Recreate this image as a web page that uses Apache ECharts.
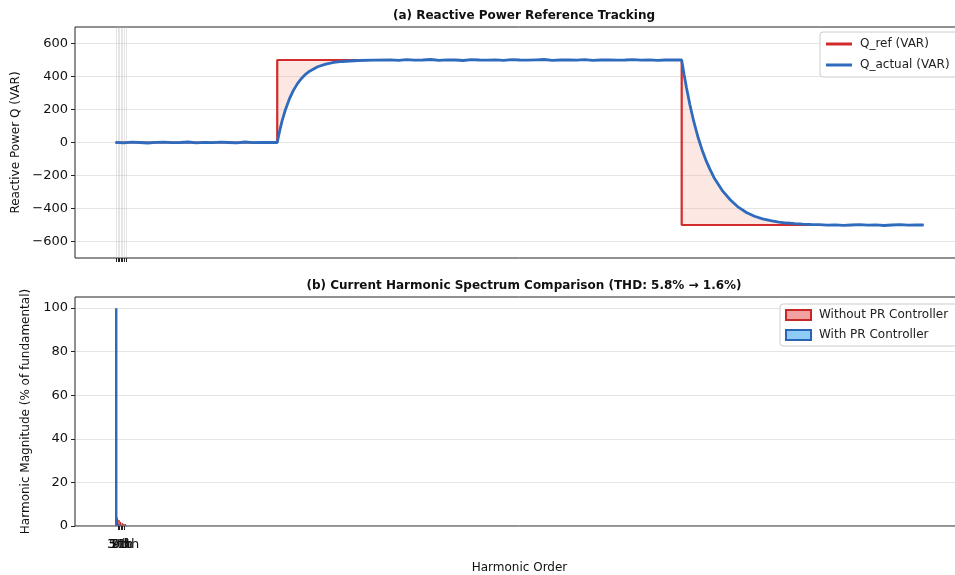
<!DOCTYPE html>
<html>
<head>
<meta charset="utf-8">
<script src="https://cdn.jsdelivr.net/npm/echarts@6/dist/echarts.min.js"></script>
<style>html,body{margin:0;padding:0;background:#fff;overflow:hidden;width:955px;height:575px;}#c{width:985px;height:575px;}</style>
</head>
<body>
<div id="c"></div>
<script>
// ---- data ----
const refT = [0, 200, 200, 700, 700, 999];
const refQ = [0, 0, 500, 500, -500, -500];

const actT = [0,10,20,30,40,50,60,70,80,90,100,110,120,130,140,150,160,170,180,190,
  200,203,206,210,215,220,225,230,235,240,250,260,270,280,290,300,320,
  340,350,360,370,380,390,400,410,420,430,440,450,460,470,480,490,500,510,520,530,540,550,560,570,580,590,600,610,620,630,640,650,660,670,680,690,
  700,703,706,710,715,720,725,730,735,740,750,760,770,780,790,800,810,820,830,840,850,860,
  870,880,890,900,910,920,930,940,950,960,970,980,990,999];
const actQ = [1,-2,2,0,-3,1,2,-1,0,3,-2,1,-1,2,0,-2,3,-1,1,0,
  0,70,131,197,264,316,357,388,413,432,459,475,485,491,494,497,499,
  501,498,502,499,500,503,498,501,500,497,502,500,499,501,498,502,500,499,501,503,498,500,501,499,502,498,500,501,499,500,502,499,501,498,500,501,
  500,410,330,232,126,35,-42,-108,-163,-213,-290,-347,-392,-424,-447,-463,-474,-482,-488,-492,-495,-497,
  -498,-501,-499,-502,-500,-498,-501,-499,-503,-500,-498,-501,-499,-500];

const harmOrders = [1, 3, 5, 7, 9, 11, 13];
const harmLabels = ['1st', '3rd', '5th', '7th', '9th', '11th', '13th'];
const withoutPR = [100, 4.0, 3.0, 2.0, 1.5, 1.2, 1.0];
const withPR = [100, 1.0, 0.8, 0.6, 0.5, 0.4, 0.3];

const qTicks = [-600, -400, -200, 0, 200, 400, 600];
const hTicks = [0, 20, 40, 60, 80, 100];

// ---- chart ----
const FONT = 'DejaVu Sans';
const chart = echarts.init(document.getElementById('c'), null, {renderer: 'canvas'});

const refData = refT.map((t, i) => [t, refQ[i]]);
const actData = actT.map((t, i) => [t, actQ[i]]);

function commonX(idx, showLabel) {
  return {
    type: 'value', gridIndex: idx, min: -50, max: 1049,
    axisLine: {show: false, onZero: false},
    axisTick: {show: true, customValues: harmOrders, length: 4, lineStyle: {color: '#222'}},
    axisLabel: {show: showLabel, customValues: harmOrders, hideOverlap: false,
      formatter: v => harmLabels[harmOrders.indexOf(v)] || '',
      color: '#111', fontFamily: FONT, fontSize: 13, margin: 12},
    splitLine: {show: idx === 0, lineStyle: {color: 'rgba(180,180,180,0.35)', width: 1}}
  };
}

chart.setOption({
  animation: false,
  backgroundColor: '#fff',
  title: [
    {text: '(a) Reactive Power Reference Tracking', left: 519, top: 5, textAlign: 'center',
     textStyle: {fontFamily: FONT, fontSize: 12, fontWeight: 'bold', color: '#111'}},
    {text: '(b) Current Harmonic Spectrum Comparison (THD: 5.8% \u2192 1.6%)', left: 519, top: 275, textAlign: 'center',
     textStyle: {fontFamily: FONT, fontSize: 12, fontWeight: 'bold', color: '#111'}}
  ],
  grid: [
    {left: 75, top: 27, width: 889, height: 231, show: true, borderColor: '#222', borderWidth: 1, backgroundColor: 'transparent'},
    {left: 75, top: 297, width: 889, height: 231, show: true, borderColor: '#222', borderWidth: 1, backgroundColor: 'transparent'}
  ],
  legend: [
    {data: ['Q_ref (VAR)', 'Q_actual (VAR)'], left: 820, top: 32, orient: 'vertical', icon: 'rect',
     itemWidth: 26, itemHeight: 3, itemGap: 9,
     backgroundColor: 'rgba(255,255,255,0.9)', borderColor: '#ccc', borderWidth: 1, borderRadius: 3,
     padding: [6, 12, 6, 6],
     textStyle: {fontFamily: FONT, fontSize: 12, color: '#222', padding: [0, 0, 0, 3]}},
    {data: ['Without PR Controller', 'With PR Controller'], left: 780, top: 304, orient: 'vertical', icon: 'rect',
     itemWidth: 25, itemHeight: 10, itemGap: 8,
     backgroundColor: 'rgba(255,255,255,0.9)', borderColor: '#ccc', borderWidth: 1, borderRadius: 3,
     padding: [5, 12, 5, 5],
     textStyle: {fontFamily: FONT, fontSize: 12, color: '#222', padding: [0, 0, 0, 3]}}
  ],
  xAxis: [
    commonX(0, false),
    Object.assign(commonX(1, true), {name: 'Harmonic Order', nameLocation: 'middle', nameGap: 36,
      nameTextStyle: {fontFamily: FONT, fontSize: 12, color: '#111'}})
  ],
  yAxis: [
    {type: 'value', gridIndex: 0, min: -700, max: 700,
     name: 'Reactive Power Q (VAR)', nameLocation: 'middle', nameGap: 52,
     nameTextStyle: {fontFamily: FONT, fontSize: 12, color: '#111'},
     axisLine: {show: false, onZero: false},
     axisTick: {show: true, customValues: qTicks, length: 4, lineStyle: {color: '#222'}},
     axisLabel: {customValues: qTicks, formatter: v => (v < 0 ? '\u2212' + Math.abs(v) : String(v)),
       fontFamily: FONT, fontSize: 13, color: '#111', margin: 7},
     splitLine: {show: true, lineStyle: {color: 'rgba(180,180,180,0.35)', width: 1}}},
    {type: 'value', gridIndex: 1, min: 0, max: 105,
     name: 'Harmonic Magnitude (% of fundamental)', nameLocation: 'middle', nameGap: 41,
     nameTextStyle: {fontFamily: FONT, fontSize: 12, color: '#111'},
     axisLine: {show: false, onZero: false},
     axisTick: {show: true, customValues: hTicks, length: 4, lineStyle: {color: '#222'}},
     axisLabel: {customValues: hTicks, fontFamily: FONT, fontSize: 13, color: '#111', margin: 7},
     splitLine: {show: true, lineStyle: {color: 'rgba(180,180,180,0.35)', width: 1}}}
  ],
  series: [
    {type: 'custom', name: 'fill', xAxisIndex: 0, yAxisIndex: 0, data: [[0, 0]], silent: true, z: 1,
     renderItem: function (params, api) {
       const pts = [];
       refData.forEach(p => pts.push(api.coord(p)));
       for (let i = actData.length - 1; i >= 0; i--) pts.push(api.coord(actData[i]));
       return {type: 'polygon', shape: {points: pts}, style: {fill: 'rgba(248,160,140,0.25)', stroke: null}};
     }},
    {type: 'line', name: 'Q_ref (VAR)', xAxisIndex: 0, yAxisIndex: 0, data: refData, showSymbol: false,
     color: '#d12b2b', lineStyle: {color: '#d12b2b', width: 2.2}, z: 3},
    {type: 'line', name: 'Q_actual (VAR)', xAxisIndex: 0, yAxisIndex: 0, data: actData, showSymbol: false,
     color: '#2f6bbd', lineStyle: {color: '#2f6bbd', width: 2.8}, z: 4},
    {type: 'bar', name: 'Without PR Controller', xAxisIndex: 1, yAxisIndex: 1,
     data: harmOrders.map((h, i) => [h, withoutPR[i]]), barWidth: 1, barGap: '0%',
     color: '#f2a0a0', itemStyle: {color: '#f2a0a0', borderColor: '#c62828', borderWidth: 1}},
    {type: 'bar', name: 'With PR Controller', xAxisIndex: 1, yAxisIndex: 1,
     data: harmOrders.map((h, i) => [h, withPR[i]]), barWidth: 1, barGap: '0%',
     color: '#8ecbf5', itemStyle: {color: '#8ecbf5', borderColor: '#2a64b5', borderWidth: 1}}
  ]
});
</script>
</body>
</html>
